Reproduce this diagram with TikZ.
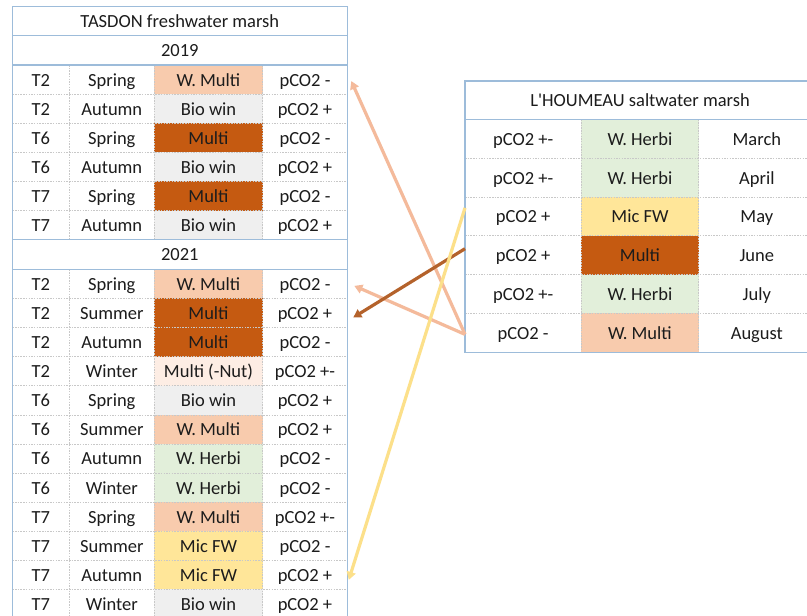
\documentclass[tikz,border=0pt]{standalone}
\usepackage{fontspec}
\setmainfont{Carlito}
\usetikzlibrary{arrows.meta}
\definecolor{bordc}{HTML}{9DBCDA}
\definecolor{dotc}{HTML}{C8C8C8}
\definecolor{txt}{HTML}{1C1C1C}
\definecolor{wmul}{HTML}{F8CBAD}
\definecolor{mul}{HTML}{C55A11}
\definecolor{bio}{HTML}{EFEFEF}
\definecolor{herb}{HTML}{E2EFDA}
\definecolor{micfw}{HTML}{FFE699}
\definecolor{nut}{HTML}{FDEDE4}
\definecolor{arrorange}{HTML}{F4BA9B}
\definecolor{arrbrown}{HTML}{B4622B}
\definecolor{arryellow}{HTML}{FCE08A}
\begin{document}
\begin{tikzpicture}[x=1pt,y=-1pt,
  cell/.style={rectangle, inner sep=0pt, outer sep=0pt, minimum height=29.1pt, text=txt,
    text height=13pt, text depth=0pt, font=\fontsize{18.5}{20}\selectfont},
  rcell/.style={cell, minimum height=38.83pt},
  blueline/.style={draw=bordc, line width=1.1pt},
  dotline/.style={draw=dotc, line width=0.6pt, dash pattern=on 1.5pt off 1.2pt},
  conn/.style={line width=3.2pt, -{Triangle[length=8pt,width=9pt]}}]
\useasboundingbox (0,0) rectangle (807,616);
\clip (0,0) rectangle (807,616);
\fill[white] (0,0) rectangle (807,616);

% ---------- Left table (TASDON) ----------
\node[cell, minimum width=335pt, minimum height=29pt] (tl) at (179.8,21.2) {TASDON freshwater marsh};
\node[cell, minimum width=335pt, minimum height=29.3pt] (y19) at (179.8,50.35) {2019};
\foreach \ta/\sa/\fa/\ca/\pa [count=\i] in {
  T2/Spring/W. Multi/wmul/pCO2 -,
  T2/Autumn/Bio win/bio/pCO2 +,
  T6/Spring/Multi/mul/pCO2 -,
  T6/Autumn/Bio win/bio/pCO2 +,
  T7/Spring/Multi/mul/pCO2 -,
  T7/Autumn/Bio win/bio/pCO2 +}{
  \pgfmathsetmacro{\yy}{65+14.55+29.1*(\i-1)}
  \node[cell, minimum width=108.4pt, fill=\ca] (a\i c3) at (208.5,\yy) {\fa};
  \node[cell, minimum width=57pt] (a\i c1) at (40.8,\yy) {\ta};
  \node[cell, minimum width=85pt] (a\i c2) at (111.8,\yy) {\sa};
  \node[cell, minimum width=84.6pt] (a\i c4) at (305,\yy) {\pa};
}
\node[cell, minimum width=335pt, minimum height=29.7pt] (y21) at (179.8,254.45) {2021};
\foreach \ta/\sa/\fa/\ca/\pa [count=\i] in {
  T2/Spring/W. Multi/wmul/pCO2 -,
  T2/Summer/Multi/mul/pCO2 +,
  T2/Autumn/Multi/mul/pCO2 -,
  T2/Winter/Multi (-Nut)/nut/pCO2 +-,
  T6/Spring/Bio win/bio/pCO2 +,
  T6/Summer/W. Multi/wmul/pCO2 +,
  T6/Autumn/W. Herbi/herb/pCO2 -,
  T6/Winter/W. Herbi/herb/pCO2 -,
  T7/Spring/W. Multi/wmul/pCO2 +-,
  T7/Summer/Mic FW/micfw/pCO2 -,
  T7/Autumn/Mic FW/micfw/pCO2 +,
  T7/Winter/Bio win/bio/pCO2 +}{
  \pgfmathsetmacro{\yy}{269.3+14.55+29.1*(\i-1)}
  \node[cell, minimum width=108.4pt, fill=\ca] (b\i c3) at (208.5,\yy) {\fa};
  \node[cell, minimum width=57pt] (b\i c1) at (40.8,\yy) {\ta};
  \node[cell, minimum width=85pt] (b\i c2) at (111.8,\yy) {\sa};
  \node[cell, minimum width=84.6pt] (b\i c4) at (305,\yy) {\pa};
}
% inner dotted rules
\foreach \k in {1,...,5}{\draw[dotline] (12.3,{65+29.1*\k}) -- (347.3,{65+29.1*\k});}
\foreach \k in {1,...,11}{\draw[dotline] (12.3,{269.3+29.1*\k}) -- (347.3,{269.3+29.1*\k});}
\foreach \xx in {69.3,154.3,262.7}{
  \draw[dotline] (\xx,65) -- (\xx,239.6);
  \draw[dotline] (\xx,269.3) -- (\xx,620);
}
% blue rules
\draw[blueline] (12.3,620) -- (12.3,6.7) -- (347.3,6.7) -- (347.3,620);
\foreach \yy in {35.7,65,239.6,269.3}{\draw[blueline] (12.3,\yy) -- (347.3,\yy);}

% ---------- Right table (L'HOUMEAU) ----------
\node[cell, minimum width=350pt, minimum height=38.3pt] (tr) at (640,100.15) {L\textquotesingle HOUMEAU saltwater marsh};
\foreach \pa/\fa/\ca/\ma [count=\i] in {
  pCO2 +-/W. Herbi/herb/March,
  pCO2 +-/W. Herbi/herb/April,
  pCO2 +/Mic FW/micfw/May,
  pCO2 +/Multi/mul/June,
  pCO2 +-/W. Herbi/herb/July,
  pCO2 -/W. Multi/wmul/August}{
  \pgfmathsetmacro{\yy}{119.3+19.415+38.83*(\i-1)}
  \node[rcell, minimum width=117.4pt, fill=\ca] (r\i c2) at (640,\yy) {\fa};
  \node[rcell, minimum width=116.3pt] (r\i c1) at (523.15,\yy) {\pa};
  \node[rcell, minimum width=116.3pt] (r\i c3) at (756.85,\yy) {\ma};
}
\foreach \k in {1,...,5}{\draw[dotline] (465,{119.3+38.83*\k}) -- (815,{119.3+38.83*\k});}
\foreach \xx in {581.3,698.7}{\draw[dotline] (\xx,119.3) -- (\xx,352.3);}
\draw[blueline] (465,81) rectangle (815,352.3);
\draw[blueline] (465,119.3) -- (815,119.3);

% ---------- connectors ----------
\draw[conn, draw=arrorange, arrorange] ([yshift=-1.5pt]r6c1.west) -- ([xshift=4pt,yshift=-1.5pt]a1c4.east);
\draw[conn, draw=arrorange, arrorange] ([yshift=-1.5pt]r6c1.west) -- ([xshift=7pt,yshift=-2pt]b1c4.east);
\draw[conn, draw=arrbrown, arrbrown] ([yshift=6.5pt]r4c1.west) -- ([xshift=6pt,yshift=-4.5pt]b2c4.east);
\draw[conn, draw=arryellow, arryellow] ([yshift=8.5pt]r3c1.west) -- ([xshift=1.5pt,yshift=-5pt]b11c4.east);
\end{tikzpicture}
\end{document}
